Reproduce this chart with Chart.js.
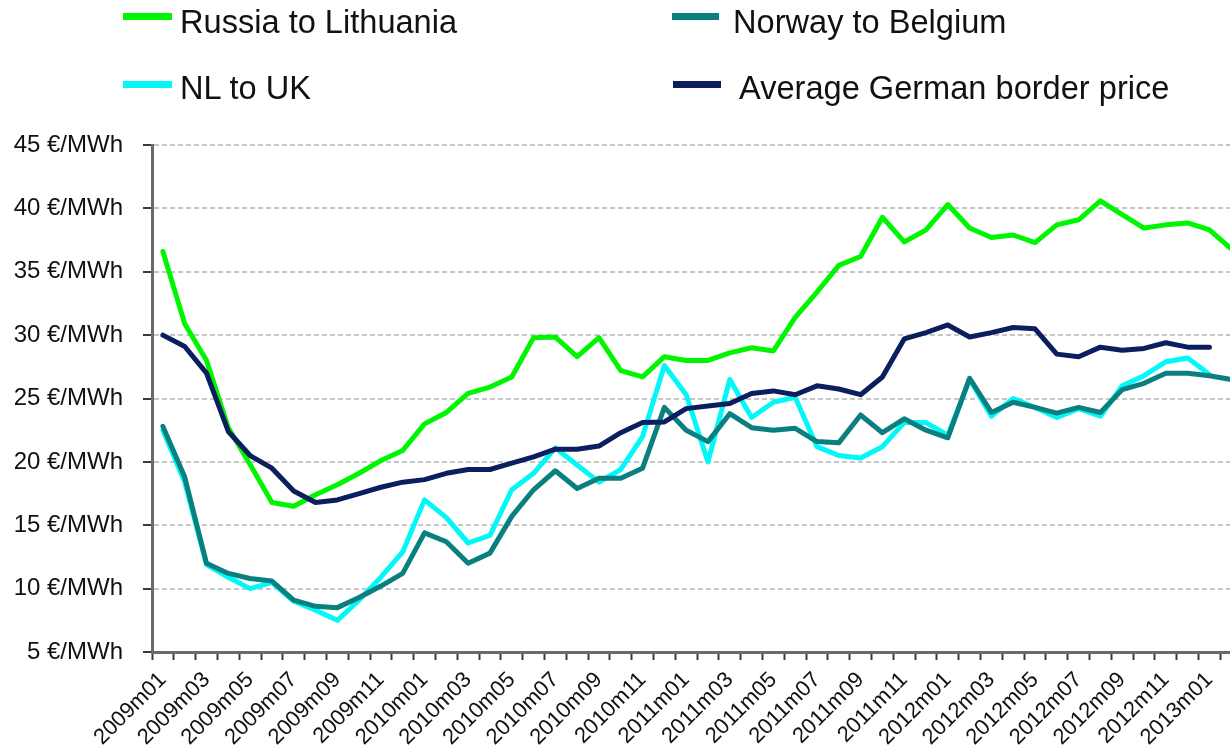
<!DOCTYPE html>
<html>
<head>
<meta charset="utf-8">
<script src="https://cdn.jsdelivr.net/npm/chart.js@4.4.1/dist/chart.umd.min.js"></script>
<style>
  html, body { margin: 0; padding: 0; background: #fff; overflow: hidden; width: 1230px; height: 750px; }
  #wrap { position: absolute; left: 0; top: 0; width: 1257px; height: 750px; }
  .lg-line { position: absolute; height: 7px; }
  .lg-text { position: absolute; font-family: "Liberation Sans", Arial, sans-serif; font-size: 32.6px; line-height: 32px; color: #111; white-space: nowrap; }
</style>
</head>
<body>
<div id="wrap"><canvas id="c" width="1257" height="750"></canvas></div>
<div id="legend"></div>
<script>
const categories = [
  '2009m01','2009m02','2009m03','2009m04','2009m05','2009m06','2009m07','2009m08','2009m09','2009m10','2009m11','2009m12',
  '2010m01','2010m02','2010m03','2010m04','2010m05','2010m06','2010m07','2010m08','2010m09','2010m10','2010m11','2010m12',
  '2011m01','2011m02','2011m03','2011m04','2011m05','2011m06','2011m07','2011m08','2011m09','2011m10','2011m11','2011m12',
  '2012m01','2012m02','2012m03','2012m04','2012m05','2012m06','2012m07','2012m08','2012m09','2012m10','2012m11','2012m12',
  '2013m01','2013m02'
];
const russiaToLithuania = [
  36.6, 30.9, 28.0, 22.7, 19.8, 16.8, 16.5, 17.4, 18.2, 19.1, 20.1, 20.9,
  23.0, 23.9, 25.4, 25.9, 26.7, 29.8, 29.85, 28.3, 29.8, 27.2, 26.7, 28.3,
  28.0, 28.0, 28.6, 29.0, 28.75, 31.4, 33.4, 35.5, 36.2, 39.3, 37.35, 38.3,
  40.3, 38.45, 37.7, 37.9, 37.3, 38.7, 39.1, 40.6, 39.5, 38.45, 38.7, 38.85,
  38.3, 36.8
];
const norwayToBelgium = [
  22.8, 18.8, 12.0, 11.2, 10.8, 10.6, 9.1, 8.6, 8.5, 9.3, 10.2, 11.2,
  14.4, 13.7, 12.0, 12.8, 15.7, 17.8, 19.3, 17.9, 18.7, 18.7, 19.5, 24.3,
  22.5, 21.6, 23.8, 22.7, 22.5, 22.65, 21.6, 21.5, 23.7, 22.3, 23.4, 22.5,
  21.9, 26.6, 23.9, 24.7, 24.3, 23.85, 24.3, 23.9, 25.7, 26.2, 27.0, 27.0,
  26.8, 26.5
];
const nlToUk = [
  22.5, 18.4, 11.9, 10.9, 10.0, 10.5, 9.0, 8.3, 7.5, 9.1, 10.9, 12.9,
  17.0, 15.6, 13.6, 14.2, 17.8, 19.1, 21.1, 19.75, 18.4, 19.4, 22.0, 27.6,
  25.3, 20.0, 26.5, 23.5, 24.7, 25.1, 21.2, 20.5, 20.3, 21.2, 23.1, 23.1,
  22.1, 26.5, 23.6, 25.0, 24.3, 23.5, 24.2, 23.6, 26.0, 26.8, 27.9, 28.2,
  26.9, null
];
const averageGermanBorderPrice = [
  30.0, 29.1, 27.0, 22.4, 20.5, 19.5, 17.7, 16.8, 17.0, 17.5, 18.0, 18.4,
  18.6, 19.1, 19.4, 19.4, 19.9, 20.4, 21.0, 21.0, 21.25, 22.3, 23.1, 23.15,
  24.2, 24.4, 24.6, 25.4, 25.6, 25.3, 26.0, 25.75, 25.3, 26.7, 29.7, 30.2,
  30.8, 29.85, 30.2, 30.6, 30.5, 28.5, 28.3, 29.05, 28.8, 28.95, 29.4, 29.05,
  29.05, null
];
const yTicks = [5, 10, 15, 20, 25, 30, 35, 40, 45];
const unit = ' €/MWh';

const seriesDefs = [
  { label: 'Russia to Lithuania', data: russiaToLithuania, color: '#00f600', order: 3 },
  { label: 'Norway to Belgium', data: norwayToBelgium, color: '#0a7f7f', order: 2 },
  { label: 'NL to UK', data: nlToUk, color: '#00f8f8', order: 4 },
  { label: 'Average German border price', data: averageGermanBorderPrice, color: '#0b1f5e', order: 1 }
];

// HTML legend (2 x 2)
const legendPos = [
  { lx: 123, lw: 49, ly: 13, tx: 180, ty: 6 },
  { lx: 672, lw: 47, ly: 13, tx: 733, ty: 6 },
  { lx: 123, lw: 49, ly: 81, tx: 180, ty: 72 },
  { lx: 673, lw: 48, ly: 81, tx: 739, ty: 72 }
];
const legendEl = document.getElementById('legend');
seriesDefs.forEach((s, i) => {
  const p = legendPos[i];
  const ln = document.createElement('div');
  ln.className = 'lg-line';
  ln.style.left = p.lx + 'px'; ln.style.top = p.ly + 'px'; ln.style.width = p.lw + 'px';
  ln.style.background = s.color;
  const tx = document.createElement('div');
  tx.className = 'lg-text';
  tx.style.left = p.tx + 'px'; tx.style.top = p.ty + 'px';
  tx.textContent = s.label;
  legendEl.appendChild(ln); legendEl.appendChild(tx);
});

new Chart(document.getElementById('c'), {
  type: 'line',
  data: {
    labels: categories,
    datasets: seriesDefs.map(s => ({
      label: s.label,
      data: s.data,
      borderColor: s.color,
      backgroundColor: s.color,
      borderWidth: 5,
      pointRadius: 0,
      tension: 0,
      fill: false,
      spanGaps: false,
      borderCapStyle: 'round',
      borderJoinStyle: 'round',
      order: s.order
    }))
  },
  options: {
    responsive: false,
    animation: false,
    devicePixelRatio: 1,
    layout: { padding: { top: 145, right: 8, left: 0, bottom: 0 } },
    plugins: { legend: { display: false }, tooltip: { enabled: false } },
    scales: {
      x: {
        type: 'category',
        offset: true,
        afterFit: (scale) => { scale.height = 98; },
        grid: {
          offset: true,
          drawOnChartArea: false,
          drawTicks: true,
          tickLength: 8,
          tickColor: '#3a3a3a',
          tickWidth: 2
        },
        border: { display: true, color: '#6a6a6a', width: 3 },
        ticks: {
          autoSkip: false,
          maxRotation: 45,
          minRotation: 45,
          padding: 7,
          color: '#111',
          font: { family: '"Liberation Sans", Arial, sans-serif', size: 22 },
          callback: function (value, index) { return index % 2 === 0 ? categories[index] : ''; }
        }
      },
      y: {
        min: yTicks[0],
        max: yTicks[yTicks.length - 1],
        afterFit: (scale) => { scale.width = 152; },
        afterBuildTicks: (scale) => { scale.ticks = yTicks.map(v => ({ value: v })); },
        grid: {
          color: '#c6c6c6',
          lineWidth: 2,
          drawTicks: true,
          tickLength: 9,
          tickColor: '#3a3a3a',
          tickWidth: 2,
          tickBorderDash: []
        },
        border: { display: true, color: '#6a6a6a', width: 3, dash: [5, 3] },
        ticks: {
          padding: 20,
          color: '#111',
          font: { family: '"Liberation Sans", Arial, sans-serif', size: 24 },
          callback: (v) => v + unit
        }
      }
    }
  }
});
</script>
</body>
</html>
